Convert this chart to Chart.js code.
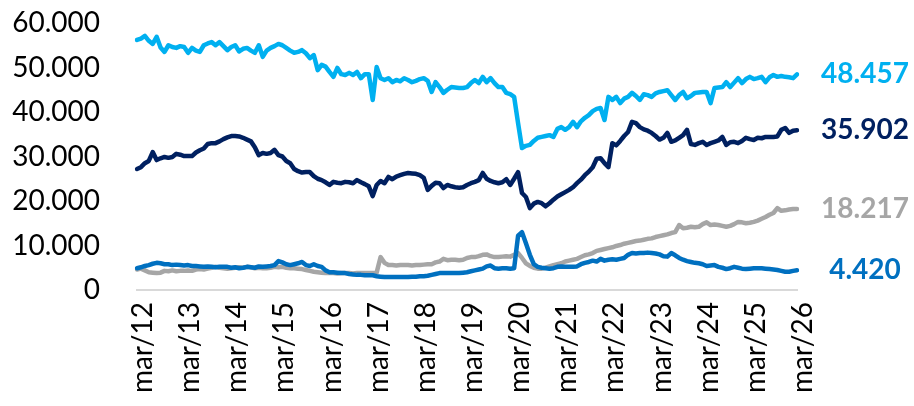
<!DOCTYPE html>
<html>
<head>
<meta charset="utf-8">
<script src="https://cdn.jsdelivr.net/npm/chart.js@4/dist/chart.umd.min.js"></script>
<style>
  html, body { margin: 0; padding: 0; background: #fff; }
  #wrap { width: 914px; height: 406px; position: relative; }
</style>
</head>
<body>
<div id="wrap"><canvas id="chart"></canvas></div>
<script>
// monthly values, in thousands, mar/12 .. mar/26
const monthNames = ['mar','abr','may','jun','jul','ago','sep','oct','nov','dic','ene','feb'];
const months = [];
for (let i = 0; i <= 168; i++) {
  months.push(monthNames[i % 12] + '/' + (12 + Math.floor((i + 2) / 12)));
}

const serieCeleste = [
  56.2, 56.5, 57.1, 56.0, 55.3, 56.9, 54.5, 53.5, 55.0, 54.6,
  54.4, 54.8, 54.6, 53.3, 54.4, 53.8, 53.5, 55.0, 55.4, 55.7,
  55.0, 55.7, 54.8, 53.9, 54.6, 55.0, 53.6, 54.2, 54.4, 53.8,
  53.3, 55.0, 52.4, 53.8, 54.4, 54.8, 55.3, 55.0, 54.4, 53.8,
  53.3, 53.5, 53.9, 53.2, 52.1, 52.8, 49.4, 50.6, 50.2, 49.0,
  47.9, 49.9, 48.5, 48.3, 48.8, 48.3, 49.0, 47.6, 48.5, 48.5,
  42.7, 50.1, 47.6, 47.2, 47.6, 46.7, 47.2, 46.9, 47.6, 47.2,
  46.7, 47.0, 47.4, 47.6, 47.0, 44.5, 46.7, 45.6, 44.3, 45.0,
  45.6, 45.5, 45.4, 45.4, 45.6, 46.5, 47.2, 46.5, 47.9, 46.7,
  47.6, 46.5, 45.6, 45.6, 44.3, 44.0, 43.4, 37.5, 31.9, 32.4,
  32.6, 33.5, 34.2, 34.4, 34.6, 34.8, 34.4, 36.2, 36.6, 36.0,
  36.6, 37.8, 36.6, 37.9, 38.7, 39.3, 40.2, 40.7, 40.9, 38.2,
  43.4, 42.7, 43.4, 42.0, 43.0, 43.4, 44.3, 43.6, 42.7, 44.0,
  43.8, 43.4, 44.2, 44.5, 44.7, 44.9, 43.8, 42.7, 43.8, 44.5,
  43.1, 43.6, 44.3, 44.4, 44.5, 44.5, 42.0, 45.4, 45.5, 45.6,
  46.7, 45.6, 46.6, 47.6, 46.5, 47.4, 47.9, 47.4, 47.6, 47.9,
  46.7, 47.8, 48.3, 47.9, 48.1, 47.9, 47.8, 47.6, 48.457
];

const serieMarino = [
  27.2, 27.6, 28.5, 29.0, 31.0, 29.2, 29.6, 29.9, 29.7, 29.9,
  30.6, 30.4, 30.1, 30.1, 30.1, 30.9, 31.4, 31.8, 32.8, 33.0,
  33.0, 33.4, 33.9, 34.3, 34.6, 34.6, 34.5, 34.2, 33.8, 33.4,
  32.1, 30.3, 30.8, 30.6, 30.8, 31.5, 30.3, 30.0, 29.0, 28.5,
  27.2, 26.7, 26.4, 26.5, 26.5, 25.6, 25.0, 24.7, 24.2, 23.6,
  24.3, 24.1, 24.0, 24.3, 24.2, 24.0, 24.7, 24.2, 23.8, 23.3,
  21.1, 23.6, 24.5, 24.0, 25.4, 24.9, 25.5, 25.8, 26.1, 26.3,
  26.2, 26.1, 25.8, 25.2, 22.5, 23.4, 24.1, 24.0, 22.9, 23.6,
  23.3, 23.1, 23.0, 23.1, 23.6, 24.0, 24.3, 24.7, 26.3, 25.0,
  24.5, 24.2, 24.0, 24.2, 24.9, 23.6, 25.0, 26.5, 21.8, 20.9,
  18.4, 19.4, 19.8, 19.5, 18.8, 19.5, 20.3, 21.0, 21.5, 22.0,
  22.5, 23.1, 24.0, 24.8, 25.8, 26.6, 27.6, 29.5, 29.6, 28.5,
  27.6, 33.0, 32.5, 33.5, 34.6, 35.5, 37.8, 37.5, 36.6, 36.1,
  35.8, 35.3, 34.6, 33.8, 34.2, 35.3, 33.3, 33.6, 34.2, 34.8,
  36.0, 32.8, 32.6, 33.0, 33.3, 32.6, 33.0, 33.3, 33.6, 34.4,
  32.6, 33.2, 33.3, 33.0, 33.5, 34.2, 33.9, 33.7, 34.2, 34.1,
  34.4, 34.4, 34.4, 34.5, 36.0, 36.4, 35.3, 35.8, 35.902
];

const serieGris = [
  4.6, 4.8, 4.4, 4.0, 3.9, 3.8, 3.9, 4.3, 4.2, 4.4,
  4.2, 4.3, 4.3, 4.4, 4.3, 4.6, 4.7, 4.6, 4.8, 5.0,
  5.2, 5.0, 4.9, 4.8, 4.9, 5.0, 5.1, 5.0, 5.2, 5.1,
  4.9, 5.0, 4.9, 4.9, 5.0, 5.2, 5.1, 5.2, 5.0, 4.9,
  4.9, 4.8, 4.7, 4.5, 4.3, 4.1, 4.0, 3.9, 3.8, 3.8,
  3.8, 3.7, 3.8, 3.8, 3.8, 3.7, 3.8, 3.8, 3.8, 3.8,
  3.8, 3.9, 7.4, 6.1, 5.6, 5.6, 5.5, 5.6, 5.6, 5.6,
  5.5, 5.6, 5.6, 5.7, 5.8, 5.8, 6.2, 6.4, 7.0, 6.7,
  6.8, 6.8, 6.7, 6.8, 7.2, 7.4, 7.4, 7.6, 7.9, 8.0,
  7.6, 7.4, 7.4, 7.5, 7.6, 7.5, 7.9, 8.3, 7.2, 6.0,
  5.4, 5.0, 4.8, 4.8, 5.0, 5.3, 5.6, 5.8, 6.0, 6.4,
  6.6, 6.8, 7.0, 7.4, 7.8, 8.0, 8.3, 8.8, 9.0, 9.2,
  9.4, 9.6, 9.9, 10.1, 10.4, 10.6, 10.8, 11.0, 11.1, 11.3,
  11.5, 11.6, 11.9, 12.1, 12.3, 12.5, 12.8, 13.0, 14.6, 13.9,
  14.0, 14.2, 14.1, 14.2, 14.8, 15.2, 14.6, 14.7, 14.6, 14.4,
  14.2, 14.4, 14.8, 15.3, 15.2, 15.0, 15.1, 15.3, 15.6, 16.0,
  16.4, 16.9, 17.3, 18.4, 17.8, 17.9, 18.1, 18.2, 18.217
];

const serieAzul = [
  4.9, 5.1, 5.4, 5.6, 5.9, 6.1, 6.0, 5.8, 5.8, 5.6,
  5.7, 5.6, 5.5, 5.6, 5.4, 5.4, 5.3, 5.2, 5.3, 5.2,
  5.1, 5.2, 5.2, 5.2, 5.0, 5.1, 4.9, 5.0, 5.2, 5.1,
  5.0, 5.3, 5.2, 5.3, 5.4, 5.6, 6.5, 6.2, 5.8, 5.6,
  5.8, 6.0, 6.3, 5.6, 5.4, 5.8, 5.4, 5.2, 4.4, 4.0,
  4.0, 3.9, 3.8, 3.8, 3.6, 3.5, 3.4, 3.4, 3.3, 3.3,
  3.3, 3.1, 3.0, 2.9, 2.9, 2.9, 2.9, 2.9, 2.9, 2.9,
  3.0, 3.0, 3.1, 3.1, 3.2, 3.4, 3.6, 3.8, 3.8, 3.8,
  3.8, 3.8, 3.8, 3.9, 4.0, 4.2, 4.4, 4.6, 4.8, 5.3,
  5.5, 4.9, 4.8, 4.9, 4.9, 4.8, 4.9, 12.2, 13.0, 10.5,
  7.9, 5.8, 5.2, 5.0, 4.9, 4.8, 4.9, 5.2, 5.3, 5.2,
  5.2, 5.2, 5.3, 5.8, 6.1, 6.3, 6.6, 6.4, 7.0, 6.6,
  6.8, 6.9, 6.8, 7.0, 7.2, 7.9, 8.3, 8.2, 8.3, 8.3,
  8.4, 8.3, 8.2, 8.0, 7.6, 7.5, 8.3, 7.8, 7.2, 6.8,
  6.5, 6.3, 6.1, 6.0, 5.8, 5.4, 5.5, 5.6, 5.2, 5.0,
  4.7, 4.9, 5.2, 5.0, 4.8, 4.7, 4.8, 4.9, 4.9, 4.9,
  4.8, 4.7, 4.6, 4.5, 4.3, 4.1, 4.1, 4.3, 4.42
];

// thousands -> "48.457" style
function fmtMiles(v) {
  const n = Math.round(v * 1000);
  return n.toString().replace(/\B(?=(\d{3})+(?!\d))/g, '.');
}

const FONT = 'Lato, "Open Sans", sans-serif';

function lineSet(label, data, color) {
  return {
    label: label,
    data: data,
    borderColor: color,
    backgroundColor: color,
    borderWidth: 4.5,
    pointRadius: 0,
    tension: 0,
    borderJoinStyle: 'round',
    borderCapStyle: 'round',
    fill: false
  };
}

// end-of-line value labels
const endLabels = {
  id: 'endLabels',
  afterDatasetsDraw(chart) {
    const ctx = chart.ctx;
    const area = chart.chartArea;
    ctx.save();
    ctx.font = 'bold 28px ' + FONT;
    ctx.textAlign = 'center';
    ctx.textBaseline = 'middle';
    chart.data.datasets.forEach((ds, i) => {
      const meta = chart.getDatasetMeta(i);
      const last = meta.data[meta.data.length - 1];
      ctx.fillStyle = ds.borderColor;
      ctx.fillText(fmtMiles(ds.data[ds.data.length - 1]), area.right + 68, last.y);
    });
    ctx.restore();
  }
};

new Chart(document.getElementById('chart'), {
  type: 'line',
  data: {
    labels: months,
    datasets: [
      lineSet('Azul', serieAzul, '#0070C0'),
      lineSet('Gris', serieGris, '#A6A6A6'),
      lineSet('Marino', serieMarino, '#002060'),
      lineSet('Celeste', serieCeleste, '#00B0F0')
    ]
  },
  options: {
    responsive: true,
    maintainAspectRatio: false,
    animation: false,
    layout: { padding: { top: 23, right: 117, left: 0, bottom: 0 } },
    plugins: {
      legend: { display: false },
      tooltip: { enabled: false }
    },
    scales: {
      x: {
        grid: { display: false, drawTicks: false },
        border: { display: true, color: '#D9D9D9', width: 2 },
        afterFit(scale) { scale.height = 116; },
        ticks: {
          autoSkip: false,
          maxRotation: 90,
          minRotation: 90,
          padding: 12,
          labelOffset: 6,
          color: '#000',
          font: { family: FONT, size: 28 },
          callback: function(val, idx) {
            return idx % 12 === 0 ? this.getLabelForValue(val) : null;
          }
        }
      },
      y: {
        min: 0,
        max: 60,
        grid: { display: false, drawTicks: false },
        border: { display: false },
        afterFit(scale) {
          scale.width = 137;
          // the big tick padding would otherwise push the plot top down
          scale.paddingTop = 0;
          scale.paddingBottom = 0;
        },
        ticks: {
          stepSize: 10,
          padding: 37,
          color: '#000',
          font: { family: FONT, size: 28 },
          callback: v => fmtMiles(v)
        }
      }
    }
  },
  plugins: [endLabels]
});
</script>
</body>
</html>
